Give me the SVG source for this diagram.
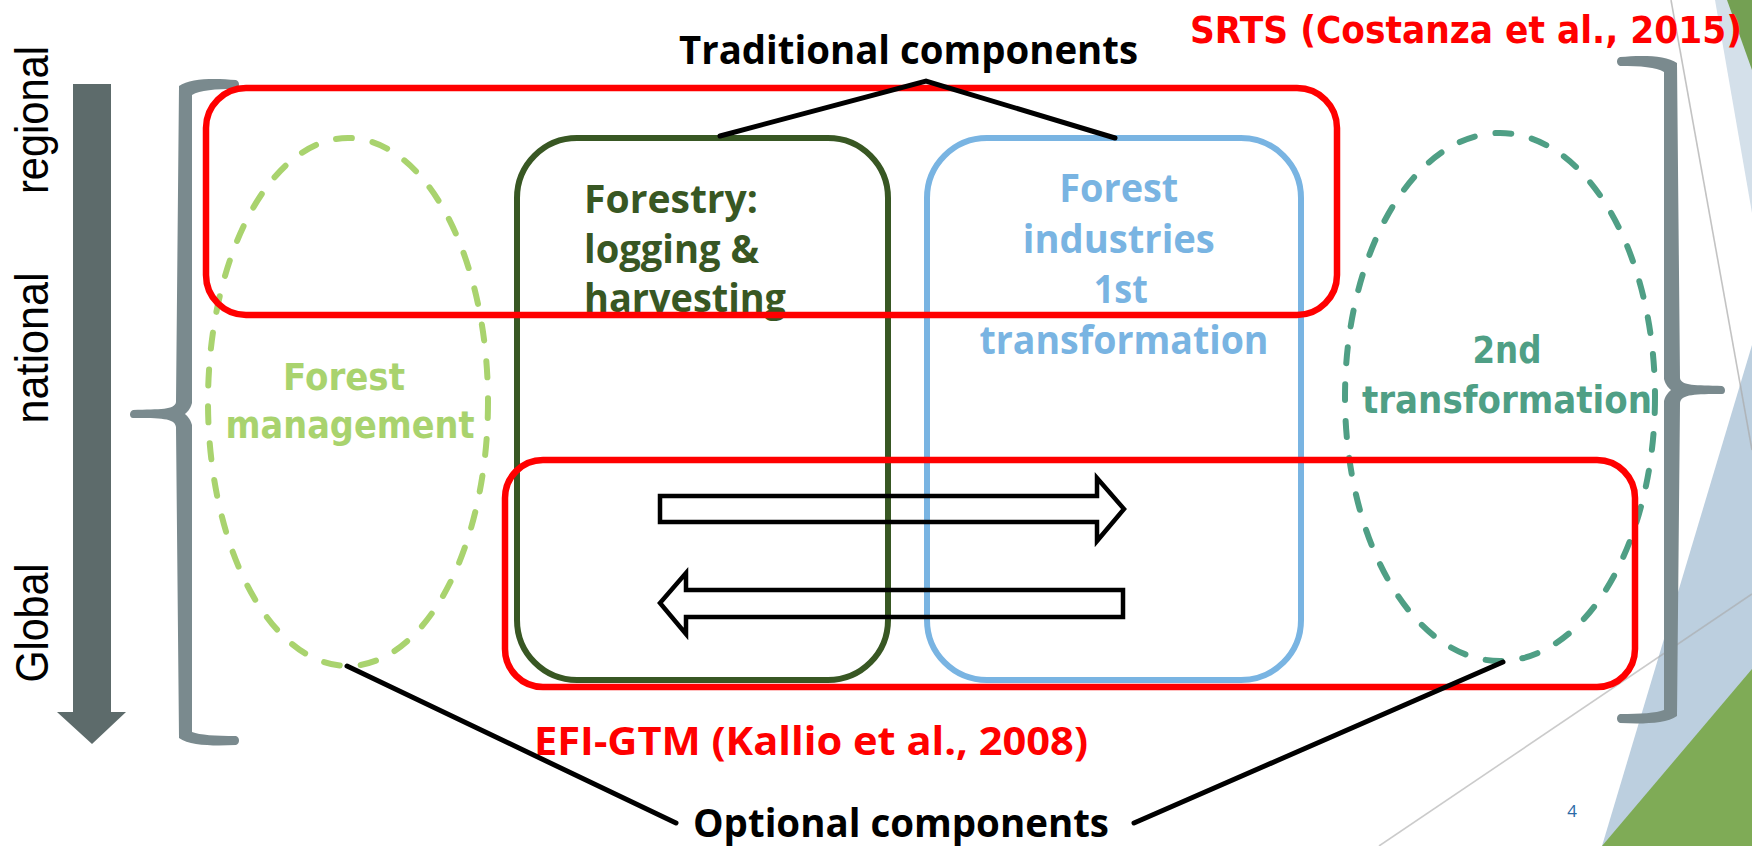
<svg xmlns="http://www.w3.org/2000/svg" width="1752" height="846" viewBox="0 0 1752 846">
<style>
.box{fill:none;stroke-width:6}
.red{fill:none;stroke:#ff0000;stroke-width:6.5}
.dash{fill:none;stroke-width:6;stroke-dasharray:16 21;stroke-linecap:round}
.lbl{font-family:"Open Sans","DejaVu Sans",sans-serif;font-weight:bold;font-size:40px}
.wide{font-family:"DejaVu Sans","Open Sans",sans-serif;font-weight:bold;font-size:37px}
.axis{font-family:"Liberation Sans Narrow","Liberation Sans",sans-serif;font-size:46px;fill:#000}
.conn{stroke:#000;stroke-width:5;stroke-linecap:round;fill:none}
.blk{fill:none;stroke:#000;stroke-width:4.5;stroke-linejoin:miter}
.brace{fill:#7a8a8e}
</style>

<!-- background decoration -->
<g id="decoration">
  <polygon points="1715,0 1752,0 1752,213" fill="#d4e0ea"/>
  <polygon points="1727,0 1752,0 1752,70" fill="#74a053"/>
  <polygon points="1752,345 1602,846 1752,846" fill="#bccfdf"/>
  <polygon points="1602,846 1752,669 1752,846" fill="#7fab56"/>
  <line x1="1671" y1="0" x2="1752" y2="450" stroke="#a9a9a9" stroke-opacity="0.7" stroke-width="1.6"/>
  <line x1="1379" y1="846" x2="1752" y2="594" stroke="#a9a9a9" stroke-opacity="0.6" stroke-width="1.6"/>
  <text x="1572" y="817" font-family="'Open Sans','DejaVu Sans',sans-serif" font-size="17" fill="#2b6aa6" text-anchor="middle">4</text>
</g>

<!-- scale axis -->
<g id="scale-arrow">
  <polygon points="73,84 111,84 111,712 126,712 92,744 57,712 73,712" fill="#5d6b6b"/>
  <text class="axis" transform="translate(48,120) rotate(-90)" text-anchor="middle" textLength="148" lengthAdjust="spacingAndGlyphs">regional</text>
  <text class="axis" transform="translate(48,348) rotate(-90)" text-anchor="middle" textLength="151" lengthAdjust="spacingAndGlyphs">national</text>
  <text class="axis" transform="translate(48,623) rotate(-90)" text-anchor="middle" textLength="119" lengthAdjust="spacingAndGlyphs">Global</text>
</g>

<!-- braces -->
<g id="left-brace">
  <path class="brace" d="M236,80 C215,78 190,78 179,86 L176,402 C175,410 160,409 133,410 C129,411 129,418 133,418 C160,418 175,418 176,427 L179,738 C190,746 215,746 236,745 C240,744 240,737 236,736 C215,736 200,735 192,732 L192,425 C190,418 187,416 185,414 C187,412 190,410 192,403 L192,95 C200,90 215,89 236,89 C240,88 240,81 236,80 Z"/>
</g>
<g id="right-brace">
  <path class="brace" d="M1620,57 C1641,55 1666,55 1677,63 L1680,378 C1681,386 1696,385 1722,386 C1726,387 1726,394 1722,394 C1696,394 1681,394 1680,403 L1677,716 C1666,724 1641,724 1620,723 C1616,722 1616,715 1620,714 C1641,714 1656,713 1664,710 L1664,401 C1666,394 1669,392 1671,390 C1669,388 1666,386 1664,379 L1664,72 C1656,67 1641,66 1620,66 C1616,65 1616,58 1620,57 Z"/>
</g>

<!-- Forest management -->
<g id="forest-management">
  <ellipse class="dash" cx="348" cy="402" rx="140" ry="264" stroke="#a9d36e"/>
  <text class="wide" x="344" y="390" text-anchor="middle" fill="#a9d36e" textLength="122" lengthAdjust="spacingAndGlyphs">Forest</text>
  <text class="wide" x="350" y="438" text-anchor="middle" fill="#a9d36e" textLength="249" lengthAdjust="spacingAndGlyphs">management</text>
</g>

<!-- Forestry -->
<g id="forestry">
  <rect class="box" x="517" y="138" width="371" height="542" rx="60" stroke="#385723"/>
  <text class="lbl" fill="#385723">
    <tspan x="584" y="213" textLength="174" lengthAdjust="spacingAndGlyphs">Forestry:</tspan>
    <tspan x="584" y="263" textLength="175" lengthAdjust="spacingAndGlyphs">logging &amp;</tspan>
    <tspan x="584" y="312" textLength="202" lengthAdjust="spacingAndGlyphs">harvesting</tspan>
  </text>
</g>

<!-- Forest industries -->
<g id="forest-industries">
  <rect class="box" x="927" y="138" width="374" height="542" rx="60" stroke="#79b4e2" stroke-width="5.5"/>
  <text class="lbl" fill="#79b4e2" text-anchor="middle">
    <tspan x="1124" y="202" textLength="119" lengthAdjust="spacingAndGlyphs">Forest</tspan>
    <tspan x="1124" y="253" textLength="192" lengthAdjust="spacingAndGlyphs">industries</tspan>
    <tspan x="1126" y="303" textLength="54" lengthAdjust="spacingAndGlyphs">1st</tspan>
    <tspan x="1124" y="354" textLength="289" lengthAdjust="spacingAndGlyphs">transformation</tspan>
  </text>
</g>

<!-- 2nd transformation -->
<g id="second-transformation">
  <ellipse class="dash" cx="1500" cy="397" rx="155" ry="264" stroke="#4f9f85"/>
  <text class="wide" x="1507" y="363" text-anchor="middle" fill="#4f9f85" textLength="69" lengthAdjust="spacingAndGlyphs">2nd</text>
  <text class="wide" x="1507" y="413" text-anchor="middle" fill="#4f9f85" textLength="290" lengthAdjust="spacingAndGlyphs">transformation</text>
</g>

<!-- flow arrows -->
<g id="flow-arrows">
  <polygon class="blk" points="660,496 1097,496 1097,478 1124,509 1097,541 1097,522 660,522"/>
  <polygon class="blk" points="1123,590 686,590 686,573 660,603 686,634 686,617 1123,617"/>
</g>

<!-- model scopes -->
<g id="srts">
  <rect class="red" x="206" y="88" width="1131" height="227" rx="40"/>
  <text class="wide" x="1190" y="43" fill="#ff0000" font-size="38" textLength="552" lengthAdjust="spacingAndGlyphs">SRTS (Costanza et al., 2015)</text>
</g>
<g id="efi-gtm">
  <rect class="red" x="505" y="460" width="1130" height="227" rx="38"/>
  <text class="lbl" x="534" y="755" fill="#ff0000" textLength="554" lengthAdjust="spacingAndGlyphs">EFI-GTM (Kallio et al., 2008)</text>
</g>

<!-- group labels -->
<g id="traditional-components">
  <text class="lbl" x="679" y="64" fill="#000" textLength="459" lengthAdjust="spacingAndGlyphs">Traditional components</text>
</g>
<g id="optional-components">
  <text class="lbl" x="693" y="837" fill="#000" textLength="416" lengthAdjust="spacingAndGlyphs">Optional components</text>
</g>

<!-- connectors -->
<g id="connectors">
  <polyline class="conn" points="720,136 926,81 1115,138"/>
  <line class="conn" x1="347" y1="666" x2="676" y2="823"/>
  <line class="conn" x1="1503" y1="662" x2="1134" y2="823"/>
</g>
</svg>
